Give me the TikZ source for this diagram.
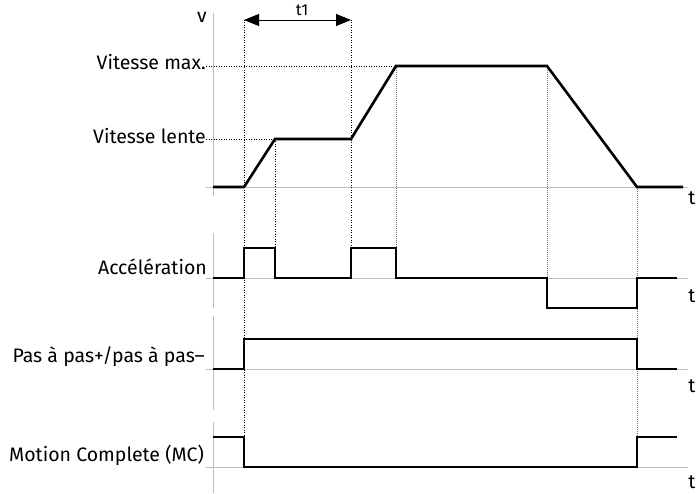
\documentclass[tikz,border=0pt]{standalone}
\usepackage{fontspec}
\setmainfont{Fira Sans}
\usetikzlibrary{arrows.meta}
\begin{document}
\begin{tikzpicture}[x=1pt,y=-1pt,
  sig/.style={line width=2.6pt, line join=miter, black},
  axisline/.style={line width=0.9pt, draw=black!25},
  dotline/.style={line width=0.8pt, dash pattern=on 0.9pt off 1.6pt, black},
  graydot/.style={line width=0.9pt, dash pattern=on 1pt off 1pt, black!55},
  lbl/.style={anchor=east, inner sep=0pt, font=\fontsize{19.5}{22}\selectfont},
  tlbl/.style={inner sep=0pt, font=\fontsize{19.5}{22}\selectfont}]
\useasboundingbox (0,0) rectangle (697,494);
% axes
\draw[axisline] (213,13) -- (213,196);
\draw[axisline] (213,233) -- (213,308);
\draw[axisline] (213,316) -- (213,410);
\draw[axisline] (213,422) -- (213,493);
\draw[axisline] (206,187) -- (688,187);
\draw[axisline] (206,278) -- (688,278);
\draw[axisline] (206,369) -- (688,369);
\draw[axisline] (206,467) -- (688,467);
% key coordinates
\coordinate (ta) at (244,20);
\coordinate (tc) at (351,20);
\coordinate (maxL) at (206,66);
\coordinate (maxR) at (396,66);
\coordinate (lenL) at (206,139);
\coordinate (lenR) at (275,139);
% dotted guides
\draw[dotline] (maxL) -- (maxR);
\draw[dotline] (lenL) -- (lenR);
\draw[dotline] (ta) -- (244,437);
\draw[dotline] (lenR) -- (275,248);
\draw[dotline] (tc) -- (351,248);
\draw[graydot] (maxR) -- (396,248);
\draw[graydot] (547,66) -- (547,278);
\draw[graydot] (637,187) -- (637,467);
% t1 arrow
\draw[line width=0.9pt, {Triangle[length=15pt,width=12pt]}-{Triangle[length=15pt,width=12pt]}] (ta) -- (tc);
\node[tlbl, font=\fontsize{16}{18}\selectfont] (t1) at (302,10) {t1};
% signals
\draw[sig] (213,187) -- (244,187) -- (275,139) -- (351,139) -- (396,66) -- (547,66) -- (637,187) -- (683,187);
\draw[sig] (213,278) -- (244,278) -- (244,248) -- (275,248) -- (275,278) -- (351,278) -- (351,248) -- (396,248) -- (396,278) -- (547,278) -- (547,308) -- (637,308) -- (637,278) -- (677,278);
\draw[sig] (213,369) -- (244,369) -- (244,339) -- (637,339) -- (637,369) -- (677,369);
\draw[sig] (213,437) -- (244,437) -- (244,467) -- (637,467) -- (637,437) -- (677,437);
% labels
\node[tlbl] (v) at (202,17) {v};
\node[lbl] (lmax) at (206,62) {Vitesse max.};
\node[lbl] (llen) at (206,136) {Vitesse lente};
\node[lbl] (lacc) at (207,267) {Accélération};
\node[lbl] (lpas) at (205,357) {Pas à pas+/pas à pas–};
\node[lbl] (lmc) at (204,455) {Motion Complete (MC)};
\node[tlbl] (ta1) at (692,198) {t};
\node[tlbl] (ta2) at (692,296) {t};
\node[tlbl] (ta3) at (692,386) {t};
\node[tlbl] (ta4) at (692,482) {t};
\end{tikzpicture}
\end{document}
